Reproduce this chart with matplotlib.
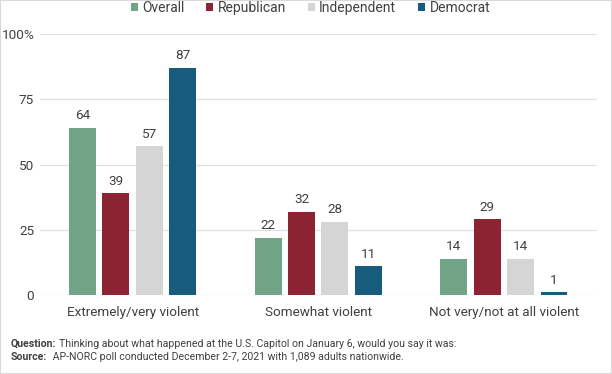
import matplotlib.pyplot as plt
import numpy as np

plt.rcParams['font.family'] = ['Roboto', 'DejaVu Sans']

categories = ['Extremely/very violent', 'Somewhat violent', 'Not very/not at all violent']
series = ['Overall', 'Republican', 'Independent', 'Democrat']
overall = [64, 22, 14]
republican = [39, 32, 29]
independent = [57, 28, 14]
democrat = [87, 11, 1]
colors = ['#72a487', '#8b2332', '#d5d5d5', '#175c7c']
yticks = [0, 25, 50, 75, 100]
ytick_labels = ['0', '25', '50', '75', '100%']

text_color = '#404040'

fig = plt.figure(figsize=(6.12, 3.74), dpi=100)
ax = fig.add_axes([0.065, 0.211, 0.91, 0.698])

x = np.arange(len(categories))
width = 0.145
step = 0.18
for i, (name, vals) in enumerate(zip(series, [overall, republican, independent, democrat])):
    pos = x + (i - 1.5) * step
    bars = ax.bar(pos, vals, width, color=colors[i], label=name, zorder=3)
    for b, v in zip(bars, vals):
        ax.annotate(str(v), (b.get_x() + b.get_width() / 2, v), xytext=(0, 4),
                    textcoords='offset points', ha='center', va='bottom',
                    fontsize=9.7, color=text_color)

ax.set_xlim(-0.5, 2.5)
ax.set_ylim(0, 100)
ax.set_yticks(yticks)
ax.set_yticklabels(ytick_labels)
ax.set_xticks(x)
ax.set_xticklabels(categories)
ax.tick_params(axis='both', length=0, colors=text_color, labelsize=9.7)
ax.tick_params(axis='x', pad=8)
ax.tick_params(axis='y', pad=4)
ax.grid(axis='y', color='#e0e0e0', linewidth=0.9, zorder=0)
for s in ax.spines.values():
    s.set_visible(False)

leg = ax.legend(loc='upper center', bbox_to_anchor=(0.486, 1.176), ncol=4, frameon=False,
                fontsize=10, handlelength=0.5, handleheight=0.5, handletextpad=0.3,
                columnspacing=1.6)
for t in leg.get_texts():
    t.set_color(text_color)

# footnotes: bold lead-in, then the rest placed right after it
fs = 7.6
renderer = fig.canvas.get_renderer()
for label, rest, y in [('Question:', 'Thinking about what happened at the U.S. Capitol on January 6, would you say it was:', 0.080),
                       ('Source:', ' AP-NORC poll conducted December 2-7, 2021 with 1,089 adults nationwide.', 0.045)]:
    t = fig.text(0.018, y, label, fontsize=fs, color=text_color, fontweight='bold', va='center')
    bb = t.get_window_extent(renderer=renderer)
    fig.text(bb.x1 / fig.bbox.width + 0.004, y, rest, fontsize=fs, color=text_color, va='center')

fig.patches.append(plt.Rectangle((0, 0), 1, 1, transform=fig.transFigure, fill=False,
                                 edgecolor='#d9d9d9', linewidth=1.5))

fig.savefig('out.png', dpi=100)
